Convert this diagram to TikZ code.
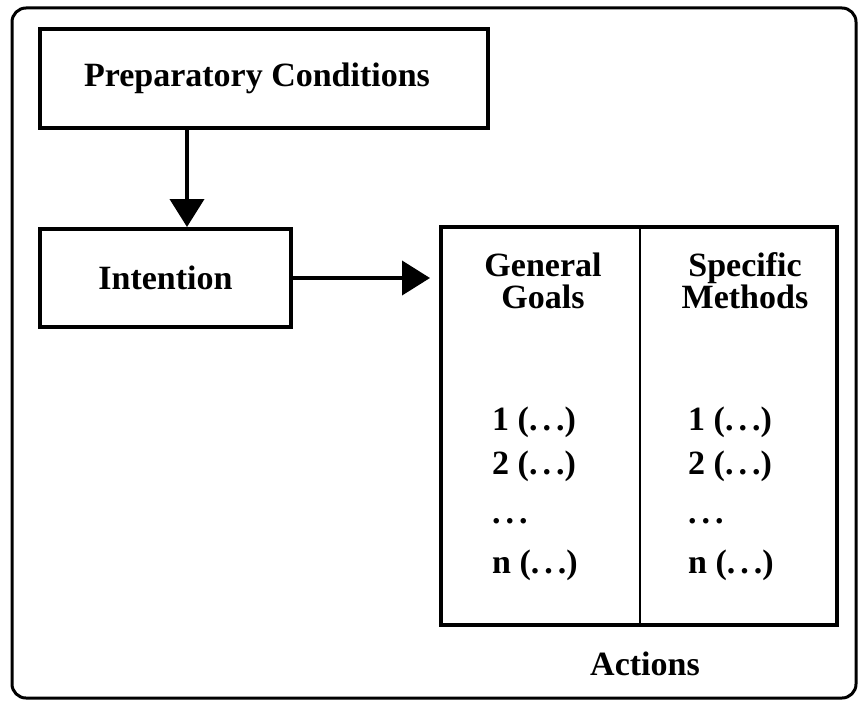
\documentclass[tikz,border=0pt]{standalone}
\usepackage{fontspec}
\setmainfont{Liberation Serif}
\usepackage{tikz}
\usetikzlibrary{arrows.meta}
\usetikzlibrary{calc}

\newcommand{\gapdots}{.\kern5pt.\kern5pt.}

\begin{document}
\begin{tikzpicture}[x=1pt, y=-1pt,
	box/.style={draw, line width=4pt, inner sep=0pt},
	txt/.style={font=\fontsize{34}{32}\selectfont\bfseries, inner sep=0pt},
	flow/.style={line width=4pt, -{Triangle[length=28pt, width=34pt]}}]
						\useasboundingbox (0,0) rectangle (858,701);
						\draw[line width=3pt, rounded corners=14pt] (12,8) rectangle (856,698);

						\coordinate (p) at (264,78.5);
						\node[box, txt, minimum width=448pt, minimum height=99pt] (prep) at (p) {Preparatory Conditions\kern14pt};

						\coordinate (i) at (165.5,278);
						\node[box, txt, minimum width=251pt, minimum height=98pt] (intent) at (i) {Intention};

						\coordinate (a) at (639,426);
						\node[box, minimum width=396pt, minimum height=398pt] (actions) at (a) {};

						\coordinate (drop) at (187,0);
						\coordinate (split) at (640,0);

						\draw[flow] (prep.south -| drop) -- (intent.north -| drop);
						\draw[flow, shorten >=9pt] (intent.east) -- (actions.west |- intent.east);
						\draw[line width=2.5pt] (actions.north -| split) -- (actions.south -| split);

						% column heads
						\node[txt, align=center] (goals) at (543,281) {General\\Goals};
						\node[txt, align=center] (methods) at (745,281) {Specific\\Methods};

						\node[txt, anchor=base west] (g1) at (492,430) {1 (\gapdots)};
						\node[txt, anchor=base west] (g2) at (492,474) {2 (\gapdots)};
						\node[txt, anchor=base west] (g3) at (492,523) {\gapdots};
						\node[txt, anchor=base west] (gn) at (492,573) {n (\gapdots)};

						\node[txt, anchor=base west] (m1) at (688,430) {1 (\gapdots)};
						\node[txt, anchor=base west] (m2) at (688,474) {2 (\gapdots)};
						\node[txt, anchor=base west] (m3) at (688,523) {\gapdots};
						\node[txt, anchor=base west] (mn) at (688,573) {n (\gapdots)};

						\node[txt, anchor=base] (actlabel) at (645,675) {Actions};
\end{tikzpicture}
\end{document}
